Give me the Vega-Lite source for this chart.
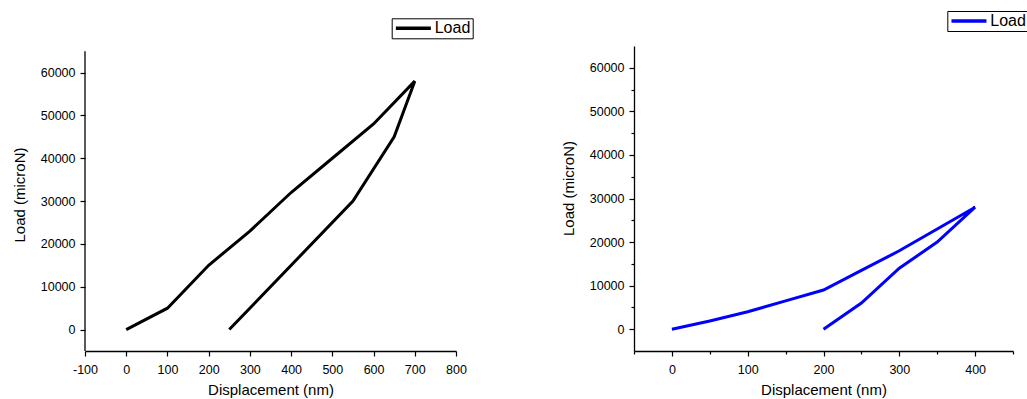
{
  "$schema": "https://vega.github.io/schema/vega-lite/v6.json",
  "padding": {"left": 12, "top": 10, "right": 0, "bottom": 0},
  "spacing": 178,
  "bounds": "flush",
  "config": {
    "font": "Liberation Sans",
    "view": {"stroke": null},
    "axis": {
      "grid": false,
      "domainColor": "#000000",
      "domainWidth": 1.3,
      "tickColor": "#000000",
      "tickWidth": 1.2,
      "labelColor": "#000000",
      "labelFontSize": 12.5,
      "labelFont": "Liberation Sans",
      "titleFont": "Liberation Sans",
      "titleFontSize": 15,
      "titleFontWeight": "normal",
      "titleColor": "#000000",
      "labelOverlap": false
    },
    "legend": {
      "title": null,
      "orient": "none",
      "symbolType": "M-1,0H5",
      "symbolSize": 136,
      "symbolStrokeWidth": 3.5,
      "labelFontSize": 16,
      "labelFont": "Liberation Sans",
      "labelColor": "#000000",
      "strokeColor": "#000000",
      "fillColor": "#ffffff",
      "padding": 2,
      "labelOffset": 25
    }
  },
  "datasets": {
    "left": [
      {"i": 0, "d": 0, "load": 0},
      {"i": 1, "d": 100, "load": 5000},
      {"i": 2, "d": 200, "load": 15000},
      {"i": 3, "d": 300, "load": 23000},
      {"i": 4, "d": 400, "load": 32000},
      {"i": 5, "d": 500, "load": 40000},
      {"i": 6, "d": 600, "load": 48000},
      {"i": 7, "d": 700, "load": 58000},
      {"i": 8, "d": 650, "load": 45000},
      {"i": 9, "d": 550, "load": 30000},
      {"i": 10, "d": 250, "load": 0}
    ],
    "right": [
      {"i": 0, "d": 0, "load": 0},
      {"i": 1, "d": 50, "load": 1900},
      {"i": 2, "d": 100, "load": 4000},
      {"i": 3, "d": 150, "load": 6500},
      {"i": 4, "d": 200, "load": 9000},
      {"i": 5, "d": 250, "load": 13500},
      {"i": 6, "d": 300, "load": 18000},
      {"i": 7, "d": 350, "load": 23000},
      {"i": 8, "d": 400, "load": 28000},
      {"i": 9, "d": 350, "load": 20000},
      {"i": 10, "d": 300, "load": 14000},
      {"i": 11, "d": 250, "load": 6000},
      {"i": 12, "d": 200, "load": 0}
    ]
  },
  "hconcat": [
    {
      "width": 371,
      "height": 305,
      "layer": [
        {
          "data": {"name": "left"},
          "mark": {"type": "line", "strokeWidth": 3, "strokeCap": "butt"},
          "encoding": {
            "x": {
              "field": "d", "type": "quantitative",
              "scale": {"domain": [-100, 800], "nice": false, "zero": false},
              "axis": {
                "title": "Displacement (nm)",
                "values": [-100, -50, 0, 50, 100, 150, 200, 250, 300, 350, 400, 450, 500, 550, 600, 650, 700, 750, 800],
                "labelExpr": "datum.value % 100 === 0 ? '' + datum.value : ''",
                "tickSize": {"condition": {"test": "datum.value % 100 === 0", "value": 5}, "value": 3},
                "labelPadding": 7,
                "labelFlush": false,
                "titlePadding": 7
              }
            },
            "y": {
              "field": "load", "type": "quantitative",
              "scale": {"domain": [-5000, 66206], "nice": false, "zero": false},
              "axis": {
                "title": "Load (microN)",
                "domain": false,
                "values": [0, 5000, 10000, 15000, 20000, 25000, 30000, 35000, 40000, 45000, 50000, 55000, 60000, 65000],
                "labelExpr": "datum.value % 10000 === 0 ? '' + datum.value : ''",
                "tickSize": {"condition": {"test": "datum.value % 10000 === 0", "value": 5}, "value": 3},
                "labelPadding": 5,
                "titlePadding": 13,
                "titleY": 148.5
              }
            },
            "order": {"field": "i"},
            "color": {
              "datum": "Load",
              "scale": {"domain": ["Load"], "range": ["#000000"]},
              "legend": {"legendX": 306.7, "legendY": -27.7}
            }
          }
        },
        {
          "data": {"values": [{}]},
          "mark": {"type": "rule", "color": "#000000", "strokeWidth": 1.3},
          "encoding": {
            "x": {"datum": -100},
            "y": {"datum": -5000},
            "y2": {"datum": 65000}
          }
        }
      ]
    },
    {
      "width": 379,
      "height": 305,
      "data": {"name": "right"},
      "mark": {"type": "line", "strokeWidth": 3, "strokeCap": "butt"},
      "encoding": {
        "x": {
          "field": "d", "type": "quantitative",
          "scale": {"domain": [-50, 450], "nice": false, "zero": false},
          "axis": {
            "title": "Displacement (nm)",
            "values": [-50, 0, 50, 100, 150, 200, 250, 300, 350, 400, 450],
            "labelExpr": "datum.value % 100 === 0 ? '' + datum.value : ''",
            "tickSize": {"condition": {"test": "datum.value % 100 === 0", "value": 5}, "value": 3},
            "labelPadding": 7,
            "labelFlush": false,
            "titlePadding": 7
          }
        },
        "y": {
          "field": "load", "type": "quantitative",
          "scale": {"domain": [-5000, 65000], "nice": false, "zero": false},
          "axis": {
            "title": "Load (microN)",
            "values": [0, 5000, 10000, 15000, 20000, 25000, 30000, 35000, 40000, 45000, 50000, 55000, 60000],
            "labelExpr": "datum.value % 10000 === 0 ? '' + datum.value : ''",
            "tickSize": {"condition": {"test": "datum.value % 10000 === 0", "value": 5}, "value": 3},
            "labelPadding": 5,
            "titlePadding": 13,
            "titleY": 142
          }
        },
        "order": {"field": "i"},
        "color": {
          "datum": "Load",
          "scale": {"domain": ["Load"], "range": ["#0000ff"]},
          "legend": {"legendX": 313.3, "legendY": -35}
        }
      }
    }
  ],
  "resolve": {
    "scale": {"color": "independent", "x": "independent", "y": "independent"},
    "legend": {"color": "independent"}
  }
}
